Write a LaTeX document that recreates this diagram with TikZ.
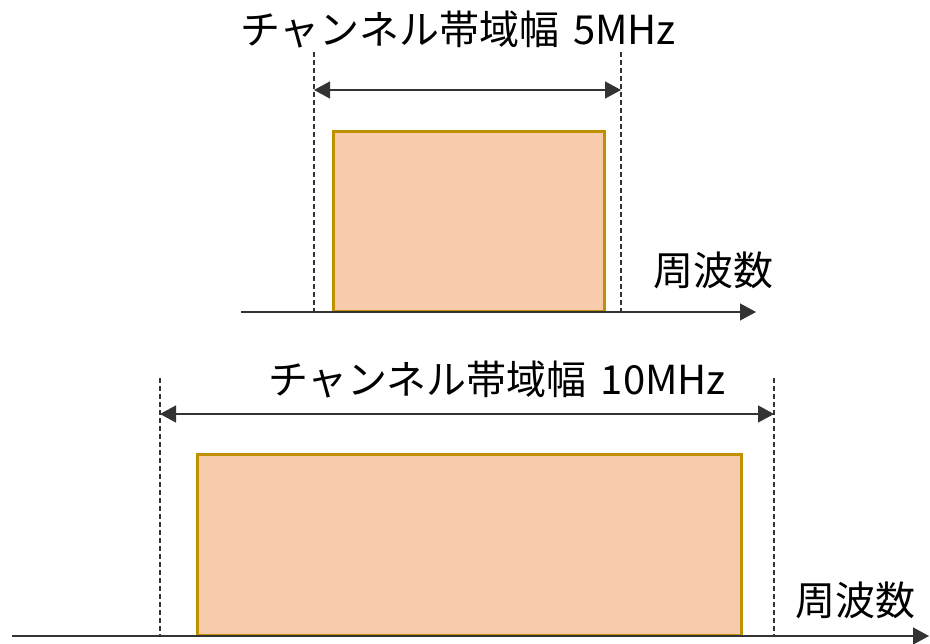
\documentclass[tikz,border=0pt]{standalone}
\usepackage{fontspec}
\setmainfont{Noto Sans CJK JP}
\usetikzlibrary{arrows.meta}
\definecolor{bandfill}{HTML}{F8CBAD}
\definecolor{bandedge}{HTML}{BF9000}
\tikzset{
  band/.style={draw=bandedge, fill=bandfill, line width=2.6pt, inner sep=0pt, anchor=north west},
  guide/.style={dash pattern=on 5pt off 3pt, line width=1.2pt, draw=black!80},
  span/.style={{Triangle[length=16pt,width=17pt]}-{Triangle[length=16pt,width=17pt]}, line width=1.3pt, draw=black!80},
  axis/.style={-{Triangle[length=16pt,width=17pt]}, line width=1.3pt, draw=black!80},
  lbl/.style={font=\fontsize{40}{46}\selectfont, inner sep=0pt}
}
\begin{document}
\begin{tikzpicture}[x=1pt,y=-1pt]
\useasboundingbox (0,0) rectangle (930,644);
% top
\node[lbl] (t1) at (458,30) {チャンネル帯域幅\hspace{0.35em}5MHz};
\coordinate (g1a) at (314,52); \coordinate (g1b) at (314,312);
\coordinate (g2a) at (621,52); \coordinate (g2b) at (621,312);
\draw[guide] (g1a) -- (g1b);
\draw[guide] (g2a) -- (g2b);
\coordinate (s1a) at (314,90); \coordinate (s1b) at (621,90);
\draw[span] (s1a) -- (s1b);
\node[band, minimum width=271pt, minimum height=180pt] (r1) at (332,130) {};
\coordinate (a1s) at (241,312); \coordinate (a1e) at (756,312);
\draw[axis] (a1s) -- (a1e);
\node[lbl] (f1) at (713,270) {周波数};
% bottom
\node[lbl] (t2) at (497,380) {チャンネル帯域幅\hspace{0.35em}10MHz};
\coordinate (g3a) at (160,378); \coordinate (g3b) at (160,636);
\coordinate (g4a) at (774,378); \coordinate (g4b) at (774,636);
\draw[guide] (g3a) -- (g3b);
\draw[guide] (g4a) -- (g4b);
\coordinate (s2a) at (160,414); \coordinate (s2b) at (774,414);
\draw[span] (s2a) -- (s2b);
\node[band, minimum width=544pt, minimum height=181pt] (r2) at (196,453) {};
\coordinate (a2s) at (12,636); \coordinate (a2e) at (929,636);
\draw[axis] (a2s) -- (a2e);
\node[lbl] (f2) at (855,600) {周波数};
\end{tikzpicture}
\end{document}
